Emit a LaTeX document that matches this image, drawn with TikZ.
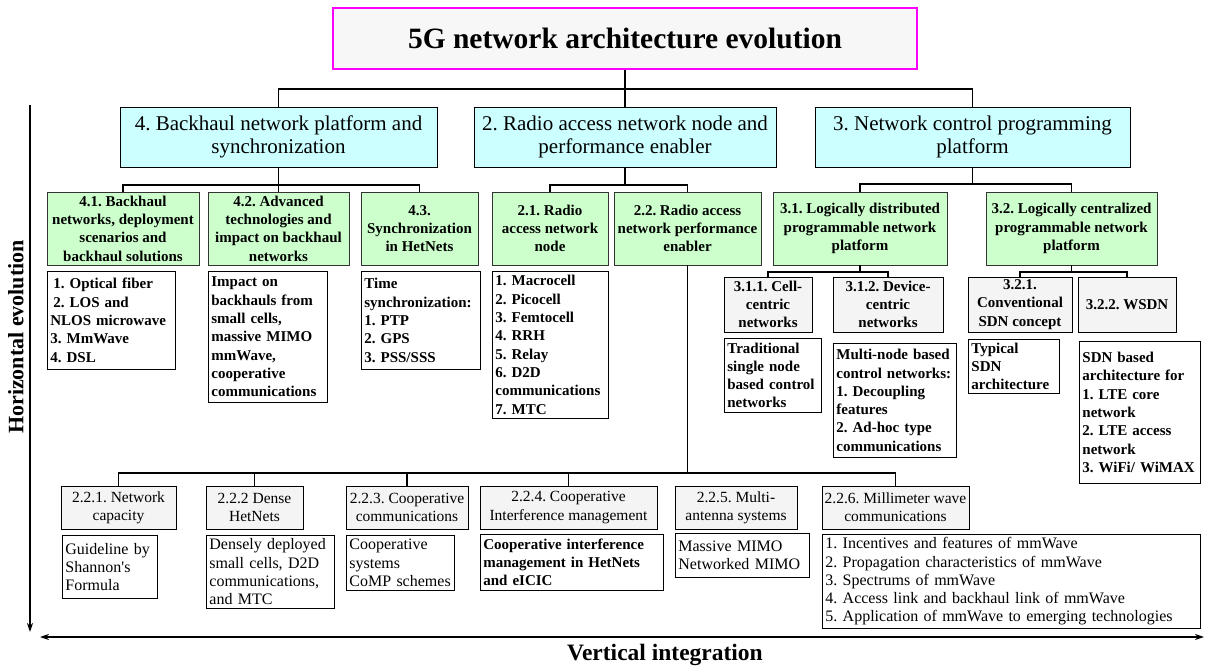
\documentclass[tikz,border=0pt]{standalone}
\usepackage{fontspec}
\setmainfont{Liberation Serif}
\usetikzlibrary{arrows.meta}
\frenchspacing
\definecolor{cyanf}{HTML}{CCFFFF}
\definecolor{greenf}{HTML}{CCFFCC}
\definecolor{grayf}{HTML}{F4F4F4}
\definecolor{titlef}{HTML}{F7F7F7}
\definecolor{magentab}{HTML}{FF00FF}
\tikzset{
  box/.style={draw=black, line width=0.8pt, inner sep=1pt, align=center, text=black},
  titlebox/.style={box, draw=magentab, line width=1.2pt, fill=titlef, font=\bfseries\fontsize{29.5}{32}\selectfont},
  lone/.style={box, fill=cyanf, font=\fontsize{21}{23}\selectfont},
  ltwo/.style={box, draw=black!80, fill=greenf, font=\bfseries\fontsize{15}{18.3}\selectfont},
  lthree/.style={box, fill=grayf, font=\bfseries\fontsize{15}{18.3}\selectfont},
  lbot/.style={box, fill=grayf, font=\fontsize{15.5}{18.3}\selectfont},
  cont/.style={draw=black, line width=0.8pt, fill=white, anchor=north west, inner xsep=3pt, inner ysep=0pt, align=left, text=black, font=\bfseries\fontsize{15}{18.3}\selectfont},
  contr/.style={cont, font=\fontsize{16}{18.3}\selectfont},
  conn/.style={line width=1.3pt, black},
  axisline/.style={line width=1.3pt, black},
  axislabel/.style={font=\bfseries\fontsize{23.5}{26}\selectfont, text=black, inner sep=0pt},
}
\begin{document}
\begin{tikzpicture}[x=1pt,y=-1pt]
\useasboundingbox (0,0) rectangle (1205,668);

% title
\node[titlebox, minimum width=584, minimum height=61] (title) at (625,38.5) {5G network architecture evolution};

% level 1
\node[lone, minimum width=317, minimum height=60] (b4) at (278.5,137) {4. Backhaul network platform and\\synchronization};
\node[lone, minimum width=302, minimum height=60] (b2) at (625,137) {2. Radio access network node and\\performance enabler};
\node[lone, minimum width=315, minimum height=60] (b3) at (972.5,137) {3. Network control programming\\platform};

% level 2
\node[ltwo, minimum width=152, minimum height=73] (b41) at (123,228.5) {4.1. Backhaul\\networks, deployment\\scenarios and\\backhaul solutions};
\node[ltwo, minimum width=141, minimum height=73] (b42) at (278.5,228.5) {4.2. Advanced\\technologies and\\impact on backhaul\\networks};
\node[ltwo, minimum width=117, minimum height=73] (b43) at (419.5,228.5) {4.3.\\Synchronization\\in HetNets};
\node[ltwo, minimum width=116, minimum height=73] (b21) at (550,228.5) {2.1. Radio\\access network\\node};
\node[ltwo, minimum width=147, minimum height=73] (b22) at (687.5,228.5) {2.2. Radio access\\network performance\\enabler};
\node[ltwo, minimum width=174, minimum height=73] (b31) at (860,228.5) {3.1. Logically distributed\\programmable network\\platform};
\node[ltwo, minimum width=171, minimum height=73] (b32) at (1071.5,228.5) {3.2. Logically centralized\\programmable network\\platform};

% level 2 contents
\node[cont, text width=122, minimum height=98] (c41) at (47,271) {\hspace*{3pt}1. Optical fiber\\\hspace*{3pt}2. LOS and\\NLOS microwave\\3. MmWave\\4. DSL};
\node[cont, text width=113, minimum height=131] (c42) at (208,271) {Impact on\\backhauls from\\small cells,\\massive MIMO\\mmWave,\\cooperative\\communications};
\node[cont, text width=113, minimum height=98] (c43) at (361,271) {Time\\synchronization:\\1. PTP\\2. GPS\\3. PSS/SSS};
\node[cont, text width=110, minimum height=147] (c21) at (492,271) {1. Macrocell\\2. Picocell\\3. Femtocell\\4. RRH\\5. Relay\\6. D2D\\communications\\7. MTC};

% level 3
\node[lthree, minimum width=88, minimum height=55] (b311) at (768,304.5) {3.1.1. Cell-\\centric\\networks};
\node[lthree, minimum width=110, minimum height=55] (b312) at (888,304.5) {3.1.2. Device-\\centric\\networks};
\node[lthree, minimum width=104, minimum height=55] (b321) at (1020,304.5) {3.2.1.\\Conventional\\SDN concept};
\node[lthree, minimum width=98, minimum height=55] (b322) at (1127,304.5) {3.2.2. WSDN};

% level 3 contents
\node[cont, text width=91, minimum height=74] (c311) at (724,338) {Traditional\\single node\\based control\\networks};
\node[cont, text width=117, minimum height=114] (c312) at (833,343) {Multi-node based\\control networks:\\1. Decoupling\\features\\2. Ad-hoc type\\communications};
\node[cont, text width=85, minimum height=54] (c321) at (968,339) {Typical\\SDN\\architecture};
\node[cont, text width=115, minimum height=142] (c322) at (1079,341) {SDN based\\architecture for\\1. LTE core\\network\\2. LTE access\\network\\3. WiFi/ WiMAX};

% bottom level
\node[lbot, minimum width=115, minimum height=43] (b221) at (118.5,507.5) {2.2.1. Network\\capacity};
\node[lbot, minimum width=97, minimum height=43] (b222) at (254.5,507.5) {2.2.2 Dense\\HetNets};
\node[lbot, minimum width=122, minimum height=43] (b223) at (407,507.5) {2.2.3. Cooperative\\communications};
\node[lbot, minimum width=177, minimum height=43] (b224) at (568.5,507.5) {2.2.4. Cooperative\\Interference management};
\node[lbot, minimum width=122, minimum height=43] (b225) at (736,507.5) {2.2.5. Multi-\\antenna systems};
\node[lbot, minimum width=147, minimum height=43] (b226) at (895.5,507.5) {2.2.6. Millimeter wave\\communications};

% bottom contents
\node[contr, text width=89, minimum height=63] (c221) at (62,535) {Guideline by\\Shannon\textquotesingle s\\Formula};
\node[contr, text width=122, minimum height=73] (c222) at (206,535) {Densely deployed\\small cells, D2D\\communications,\\and MTC};
\node[contr, text width=102, minimum height=55] (c223) at (346,535) {Cooperative\\systems\\CoMP schemes};
\node[cont, text width=177, minimum height=56] (c224) at (480,534) {Cooperative interference\\management in HetNets\\and eICIC};
\node[contr, text width=128, minimum height=44] (c225) at (675,533) {Massive MIMO\\Networked MIMO};
\node[contr, text width=372, minimum height=94] (c226) at (822,534) {1. Incentives and features of mmWave\\2. Propagation characteristics of mmWave\\3. Spectrums of mmWave\\4. Access link and backhaul link of mmWave\\5. Application of mmWave to emerging technologies};

% junction coordinates
\coordinate (j0) at (625,89);
\coordinate (j4) at (278.5,185);
\coordinate (j2) at (625,185);
\coordinate (j3) at (972.5,184);
\coordinate (j31) at (860,272);
\coordinate (j32) at (1071.5,272);
\coordinate (j22) at (687.5,473);

% connectors
\draw[conn] (title.south) -- (b2.north);
\draw[conn] (b4.north) |- (j0) -| (b3.north);
\draw[conn] (b4.south) -- (b42.north);
\draw[conn] (b41.north) |- (j4) -| (b43.north);
\draw[conn] (b2.south) -- (j2);
\draw[conn] (b21.north) |- (j2) -| (b22.north);
\draw[conn] (b3.south) -- (j3);
\draw[conn] (b31.north) |- (j3) -| (b32.north);
\draw[conn] (b31.south) -- (j31);
\draw[conn] (b311.north) |- (j31) -| (b312.north);
\draw[conn] (b32.south) -- (j32);
\draw[conn] (b321.north) |- (j32) -| (b322.north);
\draw[conn] (b22.south) -- (j22);
\draw[conn] (b221.north) |- (j22) -| (b226.north);
\draw[conn] (b222.north) -- (b222.north |- j22);
\draw[conn] (b223.north) -- (b223.north |- j22);
\draw[conn] (b224.north) -- (b224.north |- j22);

% axes
\coordinate (va) at (30,105);
\coordinate (vb) at (30,632);
\coordinate (ha) at (40,637);
\coordinate (hb) at (1204,637);
\draw[axisline, -{Stealth[length=9pt,width=6pt]}] (va) -- (vb);
\draw[axisline, {Stealth[length=9pt,width=6pt]}-{Stealth[length=9pt,width=6pt]}] (ha) -- (hb);
\node[axislabel, font=\bfseries\fontsize{22}{24}\selectfont, rotate=90] (hlab) at (16,337) {Horizontal evolution};
\node[axislabel] (vlab) at (665,655) {Vertical integration};
\end{tikzpicture}
\end{document}
